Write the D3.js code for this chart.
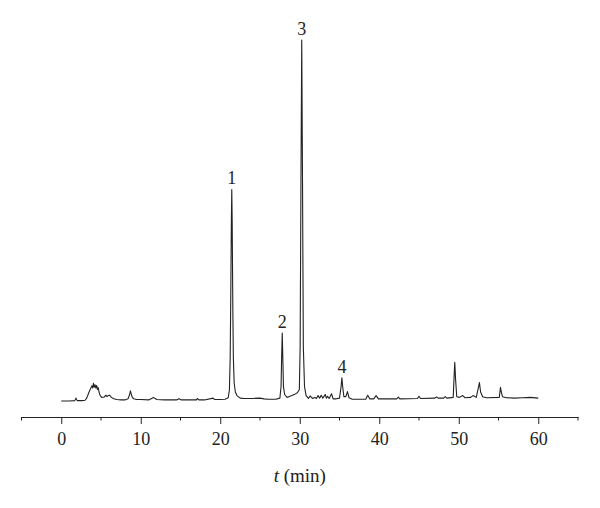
<!DOCTYPE html>
<html><head><meta charset="utf-8">
<script src="https://cdn.jsdelivr.net/npm/d3@7"></script>
<style>html,body{margin:0;padding:0;background:#fff;}</style>
</head><body>
<svg id="chart" width="600" height="508"></svg>
<script>
// Chromatogram trace: time (min) and detector signal (relative, peak 3 = 100)
const times = [
  0, 1.0, 1.7, 1.85, 2.0, 2.6, 3.0, 3.2, 3.5, 3.7, 3.85, 3.95, 4.05, 4.15, 4.25, 4.35, 4.45, 4.55, 4.65, 4.75, 4.9,
  5.1, 5.4, 5.6, 5.75, 5.9, 6.1, 6.3, 6.6, 7.0, 7.5, 8.0, 8.4, 8.6, 8.7, 8.8, 8.9, 9.1, 9.5, 10, 11, 11.6, 12, 13, 14.5, 14.8,
  15.1, 16, 17, 17.1, 17.3, 18, 19.1, 19.3, 20, 20.6, 21.0, 21.15, 21.25, 21.32, 21.4, 21.45, 21.5, 21.58, 21.65, 21.75, 21.9, 22.1,
  22.5, 23, 24, 25, 25.5, 26, 27, 27.5, 27.65, 27.72, 27.8, 27.88, 27.95, 28.1, 28.4, 29, 29.4, 29.7, 29.95, 30.05,
  30.15, 30.25, 30.35, 30.45, 30.6, 30.8, 31.1, 31.3, 31.6, 31.9, 32.1, 32.3, 32.5, 32.7, 32.9, 33.2, 33.35, 33.5,
  33.7, 34.0, 34.2, 34.6, 35.0, 35.2, 35.3, 35.4, 35.55, 35.8, 36.0, 36.2, 36.6, 37, 38.3, 38.55, 38.8, 39.3, 39.6,
  39.9, 41, 42.2, 42.4, 42.6, 44.8, 45.0, 45.2, 47, 47.2, 47.4, 48.1, 48.3, 48.5, 49.3, 49.42, 49.5, 49.6, 49.75,
  50.1, 50.5, 50.8, 51.5, 51.8, 52.2, 52.45, 52.6, 52.75, 53.0, 53.5, 55.1, 55.25, 55.35, 55.5, 56, 57, 58, 59, 60
];
const signal = [
  0.0, 0.0, 0.1, 0.8, 0.1, 0.1, 0.2, 0.8, 2.5, 3.5, 4.2, 3.6, 4.9, 3.8, 4.5, 3.6, 4.3, 3.2, 3.7, 2.5, 1.5,
  1.0, 1.1, 1.6, 1.2, 1.5, 1.6, 1.0, 0.6, 0.4, 0.3, 0.3, 0.6, 1.8, 2.8, 2.0, 1.2, 0.6, 0.4, 0.4, 0.3, 1.0, 0.4, 0.3, 0.3, 0.6,
  0.3, 0.35, 0.3, 0.7, 0.3, 0.3, 0.8, 0.4, 0.4, 0.5, 0.9, 3, 12, 28, 50, 58.6, 50, 26, 12, 5, 2.5, 1.5,
  0.8, 0.7, 0.7, 0.8, 0.6, 0.5, 0.5, 0.8, 4, 12, 18.8, 11, 4, 1.8, 1.0, 1.5, 1.9, 2.3, 3.2, 15,
  60, 100, 60, 15, 4, 1.5, 0.7, 1.4, 0.7, 1.0, 0.7, 1.5, 0.8, 1.6, 0.8, 1.8, 0.8, 1.3,
  0.7, 2.0, 0.6, 0.6, 0.8, 4, 6.45, 4, 1.2, 1.2, 2.6, 0.9, 0.5, 0.5, 0.5, 1.6, 0.6, 0.6, 1.5,
  0.6, 0.6, 0.6, 1.1, 0.6, 0.7, 1.3, 0.7, 0.8, 1.1, 0.8, 0.8, 1.2, 0.8, 1.0, 7, 10.7, 6, 1.2,
  1.0, 1.5, 0.9, 1.0, 1.5, 1.0, 3.5, 5.1, 2.5, 1.2, 0.9, 1.0, 3.8, 2.5, 1.2, 0.9, 0.8, 0.9, 1.0, 0.8
];
const peakLabels = ["1", "2", "3", "4"];
const peakTimes = [21.45, 27.8, 30.25, 35.3];
const peakHeights = [58.6, 18.8, 100, 6.45];
const tickValues = [0, 10, 20, 30, 40, 50, 60];
const minorTicks = [-5, 5, 15, 25, 35, 45, 55, 65];
const xTitle = "t";
const xUnit = " (min)";

const svg = d3.select("#chart");
const x = d3.scaleLinear().domain([-5, 65]).range([21.5, 578]);
const y = d3.scaleLinear().domain([0, 100]).range([401, 40]);
const font = "'Liberation Serif', 'Times New Roman', serif";
const ink = "#222";

const data = times.map((t, i) => [t, signal[i]]);
svg.append("path")
  .datum(data)
  .attr("fill", "none")
  .attr("stroke", ink)
  .attr("stroke-width", 1.1)
  .attr("stroke-linejoin", "round")
  .attr("d", d3.line().x(d => x(d[0])).y(d => y(d[1])));

// peak labels
svg.selectAll("text.peak").data(peakLabels).enter().append("text")
  .attr("class", "peak")
  .attr("x", (d, i) => x(peakTimes[i]))
  .attr("y", (d, i) => y(peakHeights[i]) - 5)
  .attr("text-anchor", "middle")
  .attr("font-family", font)
  .attr("font-size", 18)
  .attr("fill", ink)
  .text(d => d);

// x axis
const axisY = 417;
const gx = svg.append("g").attr("transform", `translate(0,${axisY})`);
gx.call(d3.axisBottom(x).tickValues(tickValues).tickSize(7).tickSizeOuter(0).tickPadding(8).tickFormat(d3.format("d")));
gx.select(".domain").attr("stroke", ink).attr("stroke-width", 1);
gx.selectAll(".tick line").attr("stroke", ink);
gx.selectAll(".tick text").attr("font-family", font).attr("font-size", 18).attr("fill", ink);
gx.selectAll("line.minor").data(minorTicks).enter().append("line")
  .attr("class", "minor")
  .attr("x1", d => x(d)).attr("x2", d => x(d))
  .attr("y1", 0).attr("y2", 3.5)
  .attr("stroke", ink);

const title = svg.append("text")
  .attr("x", x(30))
  .attr("y", 482)
  .attr("text-anchor", "middle")
  .attr("font-family", font)
  .attr("font-size", 19)
  .attr("fill", ink);
title.append("tspan").attr("font-style", "italic").text(xTitle);
title.append("tspan").text(xUnit);
</script>
</body></html>
